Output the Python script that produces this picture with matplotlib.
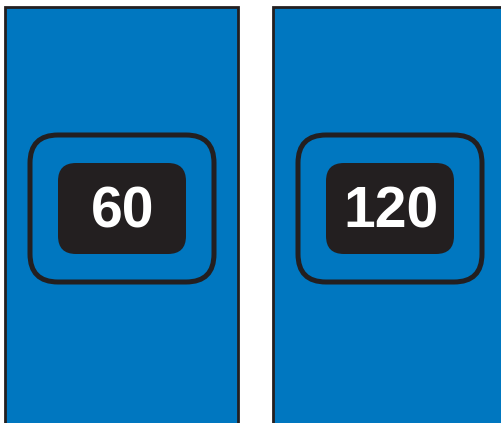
import matplotlib.pyplot as plt
from matplotlib.patches import Rectangle, FancyBboxPatch

labels = ["60", "120"]
panel_left = [5, 273]
panel_width = 233

blue = "#0077c0"
dark = "#231f20"

fig = plt.figure(figsize=(5.01, 4.23), dpi=100)
ax = fig.add_axes([0, 0, 1, 1])
ax.set_xlim(0, 501)
ax.set_ylim(423, 0)
ax.axis("off")

for x0, lab in zip(panel_left, labels):
    ax.add_patch(Rectangle((x0, 7), panel_width, 430, facecolor=blue,
                           edgecolor=dark, linewidth=2))
    cx = x0 + 117
    # outer rounded frame
    ax.add_patch(FancyBboxPatch((cx - 92 + 28, 135 + 28), 184 - 56, 147 - 56,
                                boxstyle="round,pad=28", facecolor="none",
                                edgecolor=dark, linewidth=3.6))
    # inner dark plate
    ax.add_patch(FancyBboxPatch((cx - 64 + 18, 163 + 18), 128 - 36, 91 - 36,
                                boxstyle="round,pad=18", facecolor=dark,
                                edgecolor="none"))
    ax.text(cx + 1, 228, lab, color="white", fontsize=41, fontweight="bold",
            family="Liberation Sans", ha="center", va="baseline")

fig.savefig("out.png", dpi=100)
